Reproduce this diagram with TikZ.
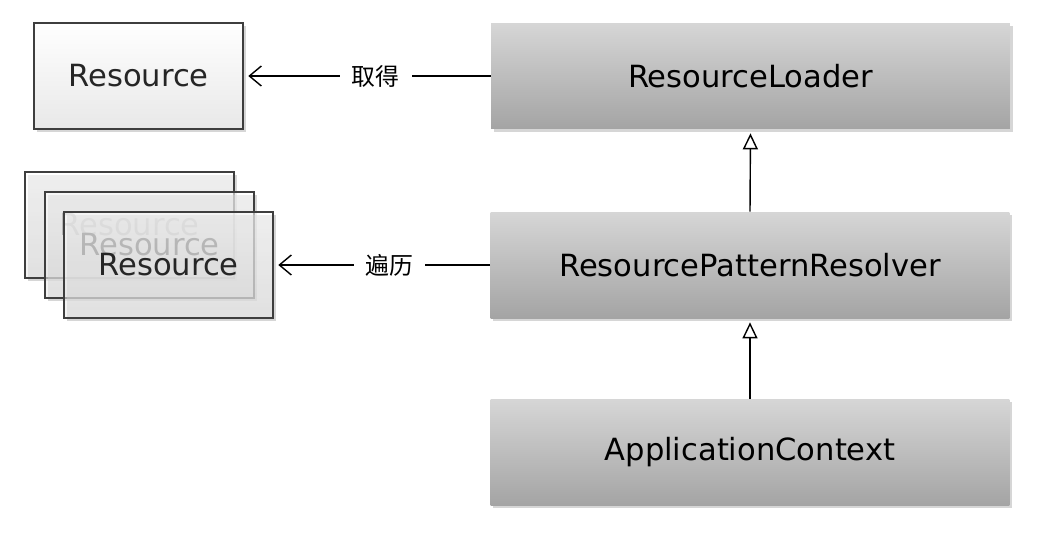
\documentclass[tikz,border=0pt]{standalone}
\usepackage{fontspec}
\setmainfont{DejaVu Sans}
\newfontfamily\zhfont{Noto Sans CJK SC}
\usetikzlibrary{arrows.meta,shadows}
\definecolor{boxtop}{RGB}{214,214,214}
\definecolor{boxbot}{RGB}{164,164,164}
\definecolor{edge}{RGB}{62,62,62}

\begin{document}
\begin{tikzpicture}[x=0.02cm,y=-0.02cm]
\tikzstyle{every node}+=[font=\fontsize{17.4}{20}\selectfont]
\tikzstyle{iface}=[rectangle, minimum width=10.38cm, minimum height=2.12cm, top color=boxtop, bottom color=boxbot, drop shadow={shadow xshift=1.5pt, shadow yshift=-1.5pt, fill=black!40, opacity=0.4}]
\tikzstyle{res}=[rectangle, minimum width=4.18cm, minimum height=2.12cm, top color=white, bottom color=black!9, draw=edge, line width=0.9pt, text=black!85, drop shadow={shadow xshift=1.5pt, shadow yshift=-1.5pt, fill=black!40, opacity=0.4}]
\tikzstyle{stack}=[res, fill opacity=0.6, text opacity=1]
\tikzstyle{dep}=[-{Straight Barb[length=2.4mm, width=4mm]}, line width=0.8pt, shorten >=0.09cm]
\tikzstyle{gen}=[-{Triangle[open, length=3.2mm, width=3mm]}, line width=0.8pt, shorten >=0.08cm]
\tikzstyle{verb}=[font=\zhfont\fontsize{13.6}{16}\selectfont, fill=white, inner xsep=0.24cm, pos=0.465]
\useasboundingbox (0,0) rectangle (1038,532);
\node[res] (res) at (138.5,76) {Resource};
\node[iface] (loader) at (750.5,76) {ResourceLoader};
\node[stack] (res1) at (129.5,225) {Resource};
\node[stack] (res2) at (149.5,245) {Resource};
\node[stack] (res3) at (168.5,265) {Resource};
\node[iface] (resolver) at (750,265) {ResourcePatternResolver};
\node[iface] (ctx) at (750,452.5) {ApplicationContext};
\draw[dep] (loader.west) -- node[verb] {取得} (res.east);
\draw[dep] (resolver.west) -- node[verb] {遍历} (res3.east);
\draw[gen] (resolver.north) -- (loader.south);
\draw[gen] (ctx.north) -- (resolver.south);
\end{tikzpicture}
\end{document}
